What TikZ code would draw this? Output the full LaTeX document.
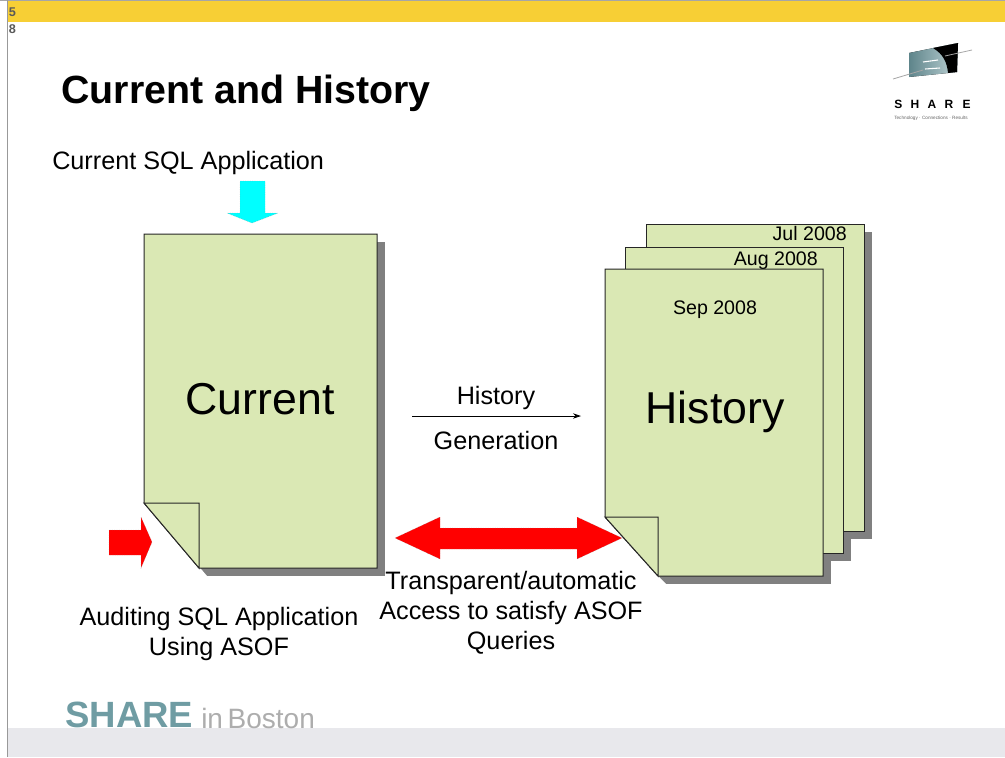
\documentclass[tikz,border=0pt]{standalone}
\usepackage{fontspec}
\setmainfont{Liberation Sans}
\usetikzlibrary{arrows.meta,shadings}
\definecolor{pagegreen}{RGB}{218,232,180}
\definecolor{shadowgray}{RGB}{128,128,128}
\definecolor{barGold}{RGB}{247,207,53}
\definecolor{bandgray}{RGB}{232,232,236}
\definecolor{teal}{RGB}{111,156,163}
\definecolor{aqua}{RGB}{0,255,255}
\definecolor{pure red}{RGB}{255,0,0}
\tikzset{
  x=0.75pt,y=-0.75pt,
  page/.style={fill=pagegreen,draw=black!85,line width=0.75pt,line join=miter},
  shadow/.style={fill=shadowgray},
  lbl/.style={inner sep=0pt,text=black,align=center},
  redarrow/.style={fill=pure red,draw=black!45,line width=0.3pt,densely dotted},
  cyanarrow/.style={fill=aqua,draw=black!45,line width=0.3pt,densely dotted},
  flow/.style={draw=black,line width=0.6pt,-{Stealth[length=6pt,width=4pt]}}
}
\begin{document}
\begin{tikzpicture}
\useasboundingbox (0,0) rectangle (1005,757);
\fill[white] (0,0) rectangle (1005,757);
% frame
\fill[bandgray] (8,727.5) rectangle (1005,757);
\fill[barGold] (8,1) rectangle (1005,22);
\fill[gray!70] (0,0) rectangle (1005,1);
\fill[gray!80] (7,0) rectangle (8,757);
\node[lbl,font=\bfseries\fontsize{9.5}{10}\selectfont,text=black!65] (pgA) at (12.5,12) {5};
\node[lbl,font=\bfseries\fontsize{9.5}{10}\selectfont,text=black!65] (pgB) at (12.5,29) {8};
% title
\node[lbl,anchor=base west,font=\bfseries\fontsize{29.5}{31}\selectfont] (title) at (61,103) {Current and History};
% logo
\fill[left color=teal!85!black,right color=teal!45] (909,53) -- (958,43) -- (957,72) -- (948,73) -- (909,77) -- cycle;
\fill[black] (933,48) -- (958,43) -- (957,72) -- (948,73) .. controls (947,62) and (943,54) .. (933,48) -- cycle;
\draw[white,line width=0.8pt] (923,62) -- (938,60) (925,69) -- (940,68);
\draw[gray!70,line width=0.6pt] (893,79) -- (923,70) (945,56) -- (972,50);
\node[lbl,anchor=base,font=\bfseries\fontsize{9}{10}\selectfont] (logotext) at (932.5,108) {S\hspace{6.2pt}H\hspace{6.2pt}A\hspace{6.2pt}R\hspace{7pt}E};
\node[lbl,anchor=base,font=\fontsize{3.5}{4}\selectfont,text=black!60] (logosub) at (931,119) {Technology · Connections · Results};
% top label and cyan arrow
\node[lbl,anchor=base west,font=\fontsize{18.9}{20}\selectfont] (curapp) at (52,169) {Current SQL Application};
\path[cyanarrow] (240,181) -- (265,181) -- (265,213) -- (278,213) -- (252,223) -- (227,213) -- (240,213) -- cycle;
% Current page
\fill[shadow] (152,242) rectangle (385,576);
\fill[white] (136,511) -- (152,511) -- (207,576) -- (136,576) -- cycle;
\path[page] (144,234) -- (377,234) -- (377,568) -- (199,568) -- (144,503) -- cycle;
\path[page] (144,503) -- (199,503) -- (199,568) -- cycle;
\node[lbl,font=\fontsize{33.5}{36}\selectfont] (current) at (260,399) {Current};
% History shadows, all behind the stack
\fill[shadow] (654,232) rectangle (872,539);
\fill[shadow] (633,255) rectangle (851,561);
\fill[shadow] (613,277) rectangle (831,584);
% History pages
\path[page] (646,224) rectangle (864,531);
\node[lbl,anchor=base east,font=\fontsize{14.7}{15}\selectfont] (jul) at (847,240) {Jul 2008};
\path[page] (625,247) rectangle (843,553);
\node[lbl,anchor=base east,font=\fontsize{14.7}{15}\selectfont] (aug) at (818,265) {Aug 2008};
\fill[white] (597,517) -- (605,517) -- (658,576) -- (666,584) -- (597,584) -- cycle;
\path[page] (605,269) -- (823,269) -- (823,576) -- (658,576) -- (605,517) -- cycle;
\path[page] (605,517) -- (658,517) -- (658,576) -- cycle;
\node[lbl,anchor=base,font=\fontsize{14.7}{15}\selectfont] (sep) at (715,314) {Sep 2008};
\node[lbl,font=\fontsize{33.5}{36}\selectfont] (history) at (715,412) {History};
% history generation
\node[lbl,anchor=base,font=\fontsize{18.9}{20}\selectfont] (histl) at (496,404) {History};
\node[lbl,anchor=base,font=\fontsize{18.9}{20}\selectfont] (genl) at (496,449) {Generation};
\coordinate (genstart) at (412,416);
\coordinate (genend) at (581,416);
\draw[flow] (genstart) -- (genend);
% red arrows
\path[redarrow] (109,530) -- (141,530) -- (141,517) -- (152,542) -- (141,568) -- (141,555) -- (109,555) -- cycle;
\path[redarrow] (395,538) -- (440,517) -- (440,528) -- (577,528) -- (577,517) -- (622,538) -- (577,559) -- (577,549) -- (440,549) -- (440,559) -- cycle;
% bottom labels
\node[lbl,anchor=base,font=\fontsize{18.9}{22.5}\selectfont] (auditA) at (219,625) {Auditing SQL Application};
\node[lbl,anchor=base,font=\fontsize{18.9}{22.5}\selectfont] (auditB) at (219,655) {Using ASOF};
\node[lbl,anchor=base,font=\fontsize{18.9}{22.5}\selectfont] (accessA) at (511,589) {Transparent/automatic};
\node[lbl,anchor=base,font=\fontsize{18.9}{22.5}\selectfont] (accessB) at (511,619) {Access to satisfy ASOF};
\node[lbl,anchor=base,font=\fontsize{18.9}{22.5}\selectfont] (accessC) at (511,649) {Queries};
% footer
\node[lbl,anchor=base west,text=teal,font=\bfseries\fontsize{27.4}{29}\selectfont] (sharefoot) at (65,727) {SHARE};
\node[lbl,anchor=base west,text=black!32,font=\fontsize{21}{23}\selectfont] (bostonfoot) at (201,728) {in\,Boston};
\end{tikzpicture}
\end{document}
